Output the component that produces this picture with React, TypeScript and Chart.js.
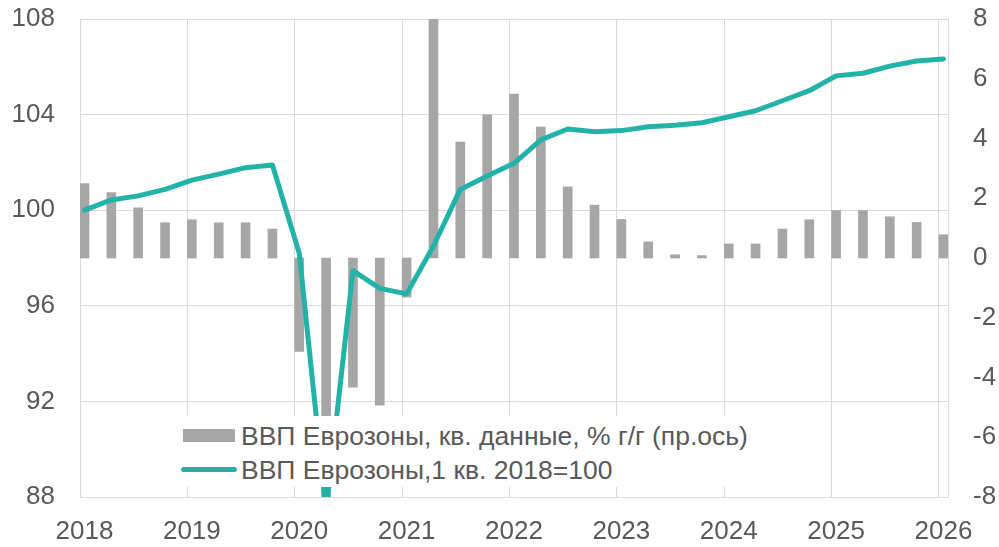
import React, { useEffect, useRef } from 'react';
import { Chart, registerables } from 'chart.js';

Chart.register(...registerables);

// ---- data ----
const quarters = [
  '2018 Q1', '2018 Q2', '2018 Q3', '2018 Q4',
  '2019 Q1', '2019 Q2', '2019 Q3', '2019 Q4',
  '2020 Q1', '2020 Q2', '2020 Q3', '2020 Q4',
  '2021 Q1', '2021 Q2', '2021 Q3', '2021 Q4',
  '2022 Q1', '2022 Q2', '2022 Q3', '2022 Q4',
  '2023 Q1', '2023 Q2', '2023 Q3', '2023 Q4',
  '2024 Q1', '2024 Q2', '2024 Q3', '2024 Q4',
  '2025 Q1', '2025 Q2', '2025 Q3', '2025 Q4',
  '2026 Q1',
];

// ВВП Еврозоны, кв. данные, % г/г (пр.ось)
const gdpYoY = [
  2.49, 2.19, 1.68, 1.18,
  1.28, 1.18, 1.18, 0.97,
  -3.13, -14.6, -4.32, -4.93,
  -1.31, 14.2, 3.88, 4.79,
  5.49, 4.38, 2.38, 1.77,
  1.29, 0.54, 0.11, 0.08,
  0.47, 0.47, 0.97, 1.28,
  1.59, 1.59, 1.38, 1.19,
  0.78,
];

// ВВП Еврозоны, 1 кв. 2018=100
const gdpIndex = [
  100.0, 100.43, 100.6, 100.87,
  101.26, 101.51, 101.78, 101.89,
  98.2, 87.4, 97.47, 96.73,
  96.5, 98.5, 100.87, 101.43,
  101.96, 102.94, 103.4, 103.28,
  103.33, 103.49, 103.55, 103.66,
  103.91, 104.16, 104.58, 105.0,
  105.62, 105.73, 106.03, 106.24,
  106.33,
];

const yearTicks = [2018, 2019, 2020, 2021, 2022, 2023, 2024, 2025, 2026];
const leftTicks = [88, 92, 96, 100, 104, 108];
const rightTicks = [-8, -6, -4, -2, 0, 2, 4, 6, 8];

const seriesLabels = [
  'ВВП Еврозоны, кв. данные, % г/г (пр.ось)',
  'ВВП Еврозоны,1 кв. 2018=100',
];

// ---- styling ----
const BAR_COLOR = '#A6A6A6';
const LINE_COLOR = '#22B2A8';
const GRID_COLOR = '#D9D9D9';
const TEXT_COLOR = '#595959';
const FONT_FAMILY = '"Liberation Sans", Arial, sans-serif';
const QUARTER_SHIFT = 0.042; // marks sit slightly right of the period start (as in the source)

function quarterToX(label: string): number {
  const [y, q] = label.split(' Q');
  return Number(y) + (Number(q) - 1) / 4 + QUARTER_SHIFT;
}

function zeroPadding(scale: any) {
  scale.paddingTop = 0;
  scale.paddingBottom = 0;
  scale.paddingLeft = 0;
  scale.paddingRight = 0;
}

export default function App() {
  const canvasRef = useRef<HTMLCanvasElement | null>(null);

  useEffect(() => {
    document.body.style.margin = '0';
    const canvas = canvasRef.current;
    if (!canvas) return;

    const xs = quarters.map(quarterToX);
    const barData = xs.map((x, i) => ({ x, y: gdpYoY[i] }));
    const lineData = xs.map((x, i) => ({ x, y: gdpIndex[i] }));

    const tickFont = { family: FONT_FAMILY, size: 26 };

    const chart = new Chart(canvas, {
      type: 'bar',
      data: {
        datasets: [
          {
            type: 'line',
            label: seriesLabels[1],
            data: lineData,
            yAxisID: 'y',
            borderColor: LINE_COLOR,
            backgroundColor: LINE_COLOR,
            borderWidth: 5,
            pointRadius: 0,
            tension: 0,
            order: 0,
            borderJoinStyle: 'round',
            borderCapStyle: 'round',
          } as any,
          {
            type: 'bar',
            label: seriesLabels[0],
            data: barData,
            yAxisID: 'yR',
            backgroundColor: BAR_COLOR,
            borderWidth: 0,
            barThickness: 9,
            order: 1,
          } as any,
        ],
      },
      options: {
        responsive: false,
        animation: false,
        events: [],
        layout: { padding: { top: 19, left: 0, right: 0, bottom: 0 } },
        plugins: {
          legend: { display: false },
          tooltip: { enabled: false },
        },
        scales: {
          x: {
            type: 'linear',
            offset: false,
            min: 2018,
            max: 2026.084,
            afterBuildTicks: (scale: any) => {
              scale.ticks = yearTicks.map((v) => ({ value: v }));
            },
            afterFit: (scale: any) => {
              scale.height = 50;
              zeroPadding(scale);
            },
            grid: { color: GRID_COLOR, lineWidth: 1, drawTicks: false, offset: false },
            border: { display: true, color: GRID_COLOR, width: 1 },
            ticks: {
              color: TEXT_COLOR,
              font: tickFont,
              padding: 19,
              labelOffset: 4.5,
              maxRotation: 0,
              autoSkip: false,
              callback: (v: any) => String(v),
            },
          },
          y: {
            type: 'linear',
            position: 'left',
            min: 88,
            max: 108,
            afterBuildTicks: (scale: any) => {
              scale.ticks = leftTicks.map((v) => ({ value: v }));
            },
            afterFit: (scale: any) => {
              scale.width = 80;
              zeroPadding(scale);
            },
            grid: { color: GRID_COLOR, lineWidth: 1, drawTicks: false },
            border: { display: true, color: GRID_COLOR, width: 1 },
            ticks: {
              color: TEXT_COLOR,
              font: tickFont,
              padding: 25,
              callback: (v: any) => String(v),
            },
          },
          yR: {
            type: 'linear',
            position: 'right',
            min: -8,
            max: 8,
            afterBuildTicks: (scale: any) => {
              scale.ticks = rightTicks.map((v) => ({ value: v }));
            },
            afterFit: (scale: any) => {
              scale.width = 51;
              zeroPadding(scale);
            },
            grid: { display: false, drawTicks: false },
            border: { display: true, color: GRID_COLOR, width: 1 },
            ticks: {
              color: TEXT_COLOR,
              font: tickFont,
              padding: 25,
              crossAlign: 'near',
              callback: (v: any) => String(v),
            },
          },
        },
      } as any,
    });

    return () => {
      chart.destroy();
    };
  }, []);

  const legendText: React.CSSProperties = {
    position: 'absolute',
    height: 34,
    lineHeight: '34px',
    fontFamily: FONT_FAMILY,
    fontSize: 26.5,
    color: TEXT_COLOR,
    whiteSpace: 'nowrap',
  };

  return (
    <div style={{ position: 'absolute', left: 0, top: 0, width: 999, height: 547, background: '#fff' }}>
      <canvas ref={canvasRef} width={999} height={547} style={{ display: 'block' }} />
      <div
        style={{
          position: 'absolute',
          left: 175,
          top: 416,
          width: 585,
          height: 71,
          background: '#fff',
        }}
      >
        <div
          style={{
            position: 'absolute',
            left: 183 - 175,
            top: 428.5 - 416,
            width: 52,
            height: 13.5,
            background: BAR_COLOR,
          }}
        />
        <div style={{ ...legendText, left: 241 - 175, top: 418.5 - 416 }}>{seriesLabels[0]}</div>
        <div
          style={{
            position: 'absolute',
            left: 181 - 175,
            top: 467 - 416,
            width: 56,
            height: 5,
            borderRadius: 2.5,
            background: LINE_COLOR,
          }}
        />
        <div style={{ ...legendText, left: 241 - 175, top: 453 - 416 }}>{seriesLabels[1]}</div>
      </div>
    </div>
  );
}
